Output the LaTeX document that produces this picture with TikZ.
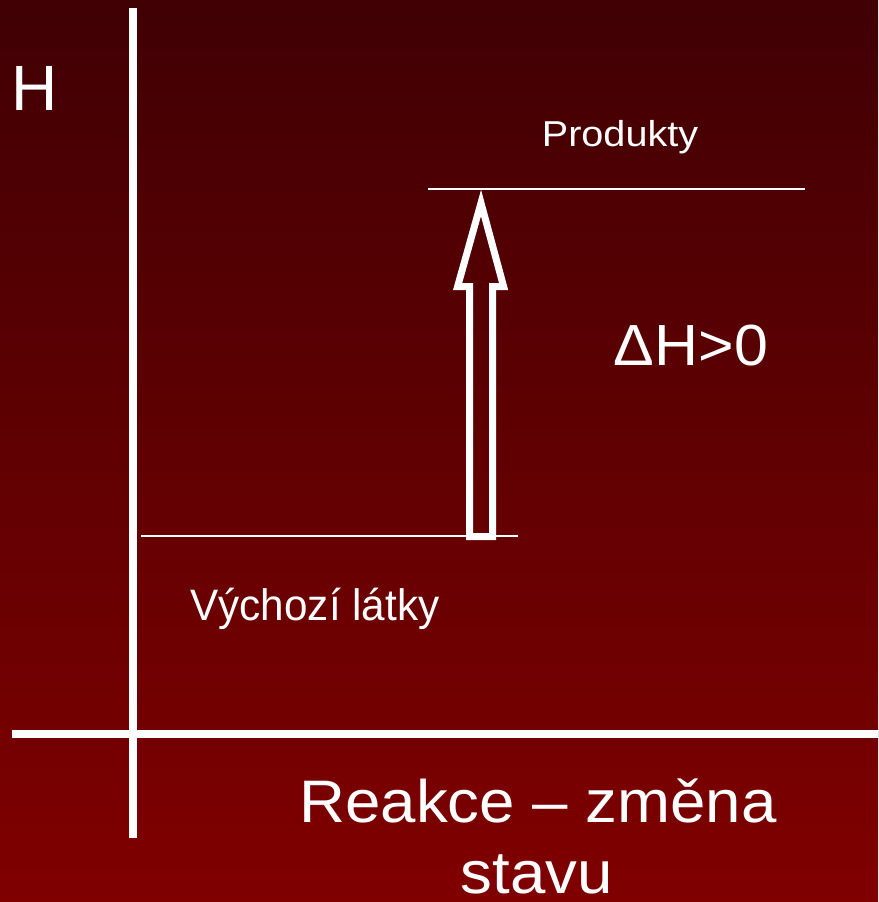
\documentclass[tikz,border=0pt]{standalone}
\usepackage{fontspec}
\setmainfont{Liberation Sans}
\begin{document}
\begin{tikzpicture}[x=1pt,y=-1pt,
  axis/.style={white,line width=8pt},
  level/.style={white,line width=2pt},
  lbl/.style={text=white,inner sep=0pt,anchor=base},
  bigarrow/.style={white,line width=7pt,line join=miter,miter limit=20}]
\shade[top color={rgb,255:red,64;green,0;blue,4},bottom color={rgb,255:red,128;green,0;blue,0}] (0,0) rectangle (878,902);
\useasboundingbox (0,0) rectangle (878,902);
% axes
\coordinate (ytop) at (132.5,8);
\coordinate (ybot) at (132.5,838);
\coordinate (xl) at (12,733.5);
\coordinate (xr) at (878,733.5);
\draw[axis] (ytop) -- (ybot);
\draw[axis] (xl) -- (xr);
% levels
\coordinate (p1) at (428,189);
\coordinate (p2) at (805,189);
\coordinate (r1) at (141,536);
\coordinate (r2) at (518,536);
\draw[level] (p1) -- (p2);
\draw[level] (r1) -- (r2);
% hollow arrow
\draw[bigarrow] (469.5,536.5) -- (469.5,286.5) -- (457.6,286.5) -- (481,203) -- (503.6,286.5) -- (492.5,286.5) -- (492.5,536.5) -- cycle;
% labels
\node[lbl,font=\fontsize{64}{70}\selectfont] (H) at (35,110) {H};
\node[lbl,font=\fontsize{36}{42}\selectfont] (prod) at (620,146) {\scalebox{1.1}[1]{Produkty}};
\node[lbl,font=\fontsize{58}{64}\selectfont] (dh) at (691,365) {\scalebox{1.05}[1]{ΔH>0}};
\node[lbl,font=\fontsize{44}{50}\selectfont] (vych) at (315,620) {\scalebox{0.96}[1]{Výchozí látky}};
\node[lbl,font=\fontsize{60}{66}\selectfont] (reak) at (538,822) {\scalebox{1.06}[1]{Reakce – změna}};
\node[lbl,font=\fontsize{60}{66}\selectfont] (stav) at (537,893) {\scalebox{1.06}[1]{stavu}};
\end{tikzpicture}
\end{document}
